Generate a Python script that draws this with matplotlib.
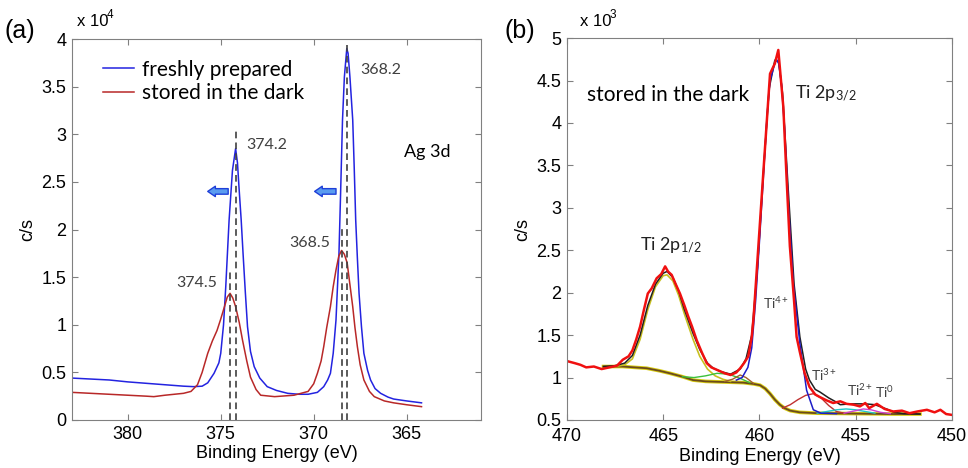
import matplotlib
matplotlib.use("Agg")
import matplotlib.pyplot as plt

# ---- (a) Ag 3d : intensidad en unidades de 1e4 c/s ----
ag_fresh_x = [383.0, 382.0, 381.0, 380.0, 379.0, 378.0, 377.0, 376.45, 376.0, 375.7,
              375.36, 375.1, 375.0, 374.85, 374.73, 374.55, 374.37, 374.2, 374.1, 374.02,
              373.9, 373.8, 373.68, 373.56, 373.4, 373.2, 372.9, 372.5, 372.0, 371.4,
              370.8, 370.3, 369.8, 369.46, 369.25, 369.1, 368.95, 368.8, 368.64, 368.55,
              368.45, 368.35, 368.22, 368.15, 368.05, 367.9, 367.82, 367.74, 367.65, 367.56,
              367.43, 367.3, 367.1, 366.94, 366.7, 366.4, 366.0, 365.7, 365.0, 364.2]
ag_fresh_y = [0.44, 0.43, 0.42, 0.40, 0.385, 0.37, 0.355, 0.35, 0.355, 0.39,
              0.49, 0.60, 0.70, 1.00, 1.40, 2.10, 2.62, 2.85, 2.70, 2.45,
              2.10, 1.75, 1.35, 0.98, 0.72, 0.56, 0.44, 0.35, 0.31, 0.28,
              0.27, 0.27, 0.29, 0.35, 0.42, 0.49, 0.70, 1.05, 1.75, 2.40,
              3.15, 3.60, 3.90, 3.85, 3.60, 3.15, 2.65, 2.10, 1.70, 1.33,
              0.98, 0.70, 0.52, 0.42, 0.33, 0.28, 0.24, 0.22, 0.20, 0.18]

ag_dark_x = [383.0, 382.0, 381.0, 380.0, 379.0, 378.6, 378.0, 377.0, 376.6, 376.25,
             376.0, 375.7, 375.45, 375.2, 375.0, 374.8, 374.65, 374.5, 374.35, 374.2,
             374.0, 373.83, 373.6, 373.4, 373.1, 372.85, 372.1, 371.06, 370.3, 370.0,
             369.8, 369.6, 369.46, 369.3, 369.1, 368.95, 368.8, 368.65, 368.5, 368.35,
             368.2, 368.05, 367.9, 367.78, 367.65, 367.5, 367.3, 367.0, 366.74, 366.2,
             365.7, 365.0, 364.2]
ag_dark_y = [0.29, 0.28, 0.27, 0.26, 0.25, 0.245, 0.26, 0.28, 0.30, 0.37,
             0.50, 0.70, 0.83, 0.94, 1.06, 1.19, 1.29, 1.33, 1.28, 1.19,
             1.02, 0.84, 0.62, 0.45, 0.32, 0.26, 0.245, 0.26, 0.30, 0.38,
             0.49, 0.62, 0.77, 0.97, 1.19, 1.40, 1.575, 1.72, 1.78, 1.74,
             1.65, 1.42, 1.19, 0.97, 0.77, 0.58, 0.42, 0.30, 0.245, 0.20,
             0.18, 0.16, 0.14]

picos_ag = [374.2, 374.5, 368.2, 368.5]
alturas_ag = [3.05, 1.58, 3.95, 2.05]
etiquetas_ag = ["374.2", "374.5", "368.2", "368.5"]
flechas_ag = [(374.6, 375.7), (368.8, 369.95)]

# ---- (b) Ti 2p : intensidad en unidades de 1e3 c/s ----
ti_x = [469.93, 469.6, 469.3, 469.0, 468.6, 468.2, 467.8, 467.4, 467.1, 466.8,
        466.6, 466.4, 466.2, 466.0, 465.8, 465.6, 465.34, 465.1, 464.9, 464.75,
        464.56, 464.35, 464.13, 463.9, 463.7, 463.5, 463.26, 463.0, 462.74, 462.5,
        462.2, 461.8, 461.5, 461.2, 461.0, 460.8, 460.58, 460.4, 460.3, 459.8,
        459.45, 459.2, 459.02, 458.9, 458.76, 458.6, 458.42, 458.2, 458.07, 457.9,
        457.65, 457.4, 457.1, 456.86, 456.5, 456.17, 455.8, 455.47, 455.1, 454.78,
        454.5, 454.3, 453.9, 453.5, 453.05, 452.6, 452.2, 451.8, 451.3, 450.9,
        450.6, 450.3, 450.0]
ti_y = [1.19, 1.17, 1.15, 1.12, 1.13, 1.10, 1.12, 1.14, 1.21, 1.25,
        1.32, 1.45, 1.60, 1.80, 1.99, 2.05, 2.17, 2.22, 2.31, 2.25,
        2.21, 2.10, 1.99, 1.85, 1.72, 1.60, 1.44, 1.30, 1.17, 1.12,
        1.09, 1.05, 1.03, 1.06, 1.11, 1.17, 1.25, 1.48, 1.72, 3.41,
        4.58, 4.70, 4.86, 4.55, 4.19, 3.40, 2.55, 1.90, 1.48, 1.30,
        1.05, 0.89, 0.80, 0.77, 0.73, 0.70, 0.72, 0.69, 0.68, 0.66,
        0.70, 0.64, 0.69, 0.63, 0.60, 0.61, 0.58, 0.60, 0.62, 0.59,
        0.62, 0.57, 0.56]

env_x = [468.1, 467.5, 467.0, 466.6, 466.2, 465.8, 465.4, 465.0, 464.8, 464.5,
         464.2, 463.9, 463.45, 463.1, 462.7, 462.4, 462.0, 461.5, 461.0, 460.7,
         460.4, 460.1, 459.8, 459.5, 459.2, 459.0, 458.8, 458.5, 458.2, 457.9,
         457.6, 457.4, 457.1, 456.86, 456.4, 456.0, 455.8, 455.3, 454.5, 454.0,
         453.4, 453.0, 452.5, 451.66]
env_y = [1.13, 1.14, 1.17, 1.26, 1.50, 1.85, 2.10, 2.23, 2.25, 2.18,
         2.02, 1.80, 1.52, 1.33, 1.17, 1.11, 1.07, 1.04, 1.10, 1.22,
         1.50, 2.30, 3.40, 4.40, 4.74, 4.72, 4.35, 3.20, 2.10, 1.48,
         1.10, 0.97, 0.86, 0.83, 0.76, 0.71, 0.68, 0.69, 0.69, 0.68,
         0.63, 0.59, 0.575, 0.57]

fondo_x = [468.1, 467.1, 466.5, 465.86, 465.2, 464.65, 464.0, 463.45, 462.8, 462.2,
           461.5, 460.84, 460.3, 459.97, 459.7, 459.45, 459.2, 458.94, 458.7, 458.4,
           457.9, 457.0, 455.0, 453.0, 451.66]
fondo_y = [1.13, 1.13, 1.12, 1.11, 1.08, 1.05, 1.01, 0.97, 0.955, 0.95,
           0.945, 0.94, 0.925, 0.91, 0.87, 0.81, 0.74, 0.68, 0.64, 0.61,
           0.59, 0.58, 0.575, 0.57, 0.57]

comp_ti4_12_x = [467.5, 467.0, 466.6, 466.2, 465.8, 465.4, 465.0, 464.8, 464.5, 464.2,
                 463.9, 463.45, 463.1, 462.7, 462.3, 461.9, 461.5]
comp_ti4_12_y = [1.13, 1.15, 1.22, 1.45, 1.80, 2.07, 2.20, 2.21, 2.14, 1.97,
                 1.75, 1.45, 1.25, 1.10, 1.02, 0.98, 0.955]
comp_ti3_12_x = [464.0, 463.4, 462.8, 462.2, 461.6, 461.0, 460.5]
comp_ti3_12_y = [1.01, 1.00, 1.02, 1.05, 1.04, 0.99, 0.94]
comp_ti2_12_x = [461.8, 461.4, 461.0, 460.7, 460.3]
comp_ti2_12_y = [0.955, 0.98, 1.03, 1.00, 0.93]
comp_ti4_x = [461.2, 460.9, 460.6, 460.4, 460.2, 460.0, 459.8, 459.6, 459.45, 459.3,
              459.14, 459.0, 458.85, 458.7, 458.5, 458.24, 457.9, 457.55, 457.2, 456.8,
              456.0]
comp_ti4_y = [0.97, 1.00, 1.12, 1.35, 1.90, 2.60, 3.35, 4.10, 4.50, 4.62,
              4.76, 4.70, 4.45, 3.95, 3.05, 2.11, 1.40, 0.85, 0.62, 0.58,
              0.575]
comp_ti3_x = [458.8, 458.4, 458.0, 457.6, 457.2, 456.8, 456.4, 456.0, 455.6]
comp_ti3_y = [0.64, 0.68, 0.74, 0.79, 0.81, 0.76, 0.67, 0.60, 0.58]
comp_ti2_x = [457.0, 456.5, 456.0, 455.5, 455.0, 454.5, 454.0]
comp_ti2_y = [0.58, 0.60, 0.62, 0.63, 0.62, 0.60, 0.58]
comp_ti0_x = [455.6, 455.0, 454.6, 454.2, 453.7, 453.2]
comp_ti0_y = [0.58, 0.61, 0.63, 0.62, 0.59, 0.575]

# ---- estilo ----
plt.rcParams['font.family'] = ['Liberation Sans', 'DejaVu Sans']
plt.rcParams['mathtext.fontset'] = 'custom'
plt.rcParams['mathtext.rm'] = 'Lato'
plt.rcParams['mathtext.it'] = 'Lato:italic'
GRIS = '#808080'
TEXTO = '#404040'
FNOTA = ['Lato', 'DejaVu Sans']


def estilo_ejes(ax):
    for s in ax.spines.values():
        s.set_color(GRIS)
    ax.tick_params(direction='in', top=True, right=True, length=4, width=0.8,
                   color=GRIS, labelsize=13, pad=4)
    ax.set_xlabel('Binding Energy (eV)', fontsize=13, labelpad=2)
    ax.set_ylabel('c/s', fontsize=13)


fig = plt.figure(figsize=(9.68, 4.68), dpi=100)
ax1 = fig.add_axes([0.0744, 0.1026, 0.4225, 0.814])
ax2 = fig.add_axes([0.5857, 0.1026, 0.3977, 0.816])

# panel (a)
ax1.plot(ag_fresh_x, ag_fresh_y, color='#2323e0', lw=1.1, label='freshly prepared')
ax1.plot(ag_dark_x, ag_dark_y, color='#b82828', lw=1.1, label='stored in the dark')
ax1.vlines(picos_ag, 0, alturas_ag, colors='#404040', linestyles=(0, (4, 2.5)), lw=1.2)
ax1.text(373.65, 2.89, etiquetas_ag[0], fontsize=11.5, color=TEXTO, family=FNOTA, va='center')
ax1.text(375.2, 1.44, etiquetas_ag[1], fontsize=11.5, color=TEXTO, family=FNOTA, va='center', ha='right')
ax1.text(367.47, 3.67, etiquetas_ag[2], fontsize=11.5, color=TEXTO, family=FNOTA, va='center')
ax1.text(369.1, 1.86, etiquetas_ag[3], fontsize=11.5, color=TEXTO, family=FNOTA, va='center', ha='right')
ax1.text(365.16, 2.81, 'Ag 3d', fontsize=13, color='black', family=FNOTA, va='center')
for x0, x1 in flechas_ag:
    ax1.annotate('', xy=(x1, 2.40), xytext=(x0, 2.40),
                 arrowprops=dict(arrowstyle='simple,head_width=0.75,head_length=0.55,tail_width=0.4',
                                 fc='#5a9cf0', ec='#1f3fd8', lw=1.0, shrinkA=0, shrinkB=0))
leg = ax1.legend(loc='upper left', frameon=False, prop={'family': FNOTA, 'size': 15},
                 handlelength=1.5, handletextpad=0.35, labelspacing=0.15,
                 bbox_to_anchor=(0.03, 0.995))
ax1.set_xlim(383, 361)
ax1.set_ylim(0, 4)
ax1.set_xticks([380, 375, 370, 365])
ax1.set_yticks([0, 0.5, 1, 1.5, 2, 2.5, 3, 3.5, 4])
ax1.set_yticklabels(['0', '0.5', '1', '1.5', '2', '2.5', '3', '3.5', '4'])
estilo_ejes(ax1)

# panel (b)
ax2.plot(fondo_x, fondo_y, color='#d8cc10', lw=2.6)
ax2.plot(fondo_x, fondo_y, color='#6b4a1e', lw=1.3)
ax2.plot(comp_ti4_12_x, comp_ti4_12_y, color='#c8c020', lw=1.2)
ax2.plot(comp_ti3_12_x, comp_ti3_12_y, color='#3cc03c', lw=1.0)
ax2.plot(comp_ti2_12_x, comp_ti2_12_y, color='#a0602a', lw=1.0)
ax2.plot(comp_ti3_x, comp_ti3_y, color='#c03030', lw=1.0)
ax2.plot(comp_ti2_x, comp_ti2_y, color='#20c8c8', lw=1.0)
ax2.plot(comp_ti0_x, comp_ti0_y, color='#d040d0', lw=1.0)
ax2.plot(env_x, env_y, color='#202020', lw=1.1)
ax2.plot(comp_ti4_x, comp_ti4_y, color='#1c1cc8', lw=1.1)
ax2.plot(ti_x, ti_y, color='#f01010', lw=1.8)
ax2.text(468.96, 4.33, 'stored in the dark', fontsize=15, family=FNOTA, va='center')
ax2.text(458.16, 4.35, r'Ti 2p$_{\mathrm{3/2}}$', fontsize=13, family=FNOTA, color='#202020', va='center')
ax2.text(466.2, 2.56, r'Ti 2p$_{\mathrm{1/2}}$', fontsize=13, family=FNOTA, color='#202020', va='center')
ax2.text(459.8, 1.88, r'Ti$^{\mathrm{4+}}$', fontsize=10, family=FNOTA, color=TEXTO, va='center')
ax2.text(457.3, 1.03, r'Ti$^{\mathrm{3+}}$', fontsize=10, family=FNOTA, color=TEXTO, va='center')
ax2.text(455.47, 0.85, r'Ti$^{\mathrm{2+}}$', fontsize=10, family=FNOTA, color=TEXTO, va='center')
ax2.text(454.0, 0.83, r'Ti$^{\mathrm{0}}$', fontsize=10, family=FNOTA, color=TEXTO, va='center')
ax2.set_xlim(470, 450)
ax2.set_ylim(0.5, 5)
ax2.set_xticks([470, 465, 460, 455, 450])
ax2.set_yticks([0.5, 1, 1.5, 2, 2.5, 3, 3.5, 4, 4.5, 5])
ax2.set_yticklabels(['0.5', '1', '1.5', '2', '2.5', '3', '3.5', '4', '4.5', '5'])
estilo_ejes(ax2)
ax2.tick_params(axis='x', pad=6)

# factores de escala y letras de panel
fig.text(77 / 968, 1 - 22 / 468, 'x 10', fontsize=12, va='center')
fig.text(107 / 968, 1 - 15 / 468, '4', fontsize=8.5, va='center')
fig.text(580 / 968, 1 - 22 / 468, 'x 10', fontsize=12, va='center')
fig.text(610 / 968, 1 - 15 / 468, '3', fontsize=8.5, va='center')
fig.text(4 / 968, 1 - 31 / 468, '(a)', fontsize=18, va='center')
fig.text(504 / 968, 1 - 31 / 468, '(b)', fontsize=18, va='center')

fig.savefig('out.png', dpi=100)
